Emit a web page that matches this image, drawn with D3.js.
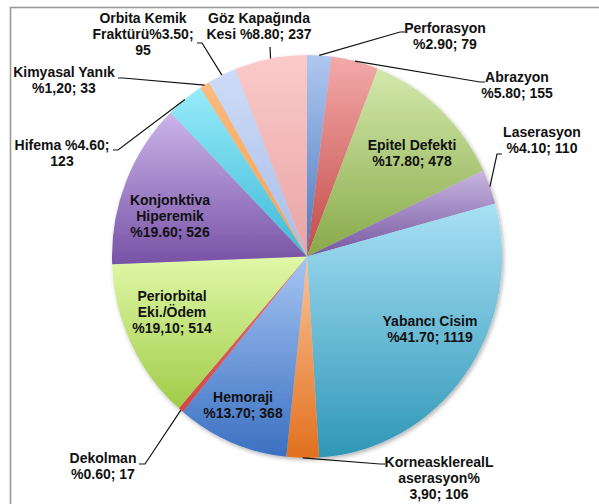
<!DOCTYPE html>
<html>
<head>
<meta charset="utf-8">
<script src="https://cdn.jsdelivr.net/npm/d3@7/dist/d3.min.js"></script>
<style>
  html, body { margin: 0; padding: 0; background: #fff; }
  svg { display: block; }
  text { font-family: "Liberation Sans", Arial, sans-serif; font-weight: bold; font-size: 14px; fill: #111; }
</style>
</head>
<body>
<svg id="chart" width="599" height="504"></svg>
<script>
// ---- data ----
const categories = ["Perforasyon", "Abrazyon", "Epitel Defekti", "Laserasyon", "Yabancı Cisim",
  "KorneasklerealLaserasyon", "Hemoraji", "Dekolman", "Periorbital Eki./Ödem", "Konjonktiva Hiperemik",
  "Hifema", "Kimyasal Yanık", "Orbita Kemik Fraktürü", "Göz Kapağında Kesi"];
const counts = [79, 155, 478, 110, 1119, 106, 368, 17, 514, 526, 123, 33, 95, 237];
const percents = ["%2.90", "%5.80", "%17.80", "%4.10", "%41.70", "%3,90", "%13.70", "%0.60", "%19,10", "%19.60", "%4.60", "%1,20", "%3.50", "%8.80"];
const labelLines = [
  ["Perforasyon", "%2.90; 79"],
  ["Abrazyon", "%5.80; 155"],
  ["Epitel Defekti", "%17.80; 478"],
  ["Laserasyon", "%4.10; 110"],
  ["Yabancı Cisim", "%41.70; 1119"],
  ["KorneasklerealL", "aserasyon%", "3,90; 106"],
  ["Hemoraji", "%13.70; 368"],
  ["Dekolman", "%0.60; 17"],
  ["Periorbital", "Eki./Ödem", "%19,10; 514"],
  ["Konjonktiva", "Hiperemik", "%19.60; 526"],
  ["Hifema %4.60;", "123"],
  ["Kimyasal Yanık", "%1,20; 33"],
  ["Orbita Kemik", "Fraktürü%3.50;", "95"],
  ["Göz Kapağında", "Kesi %8.80; 237"]
];

// ---- style / layout ----
const gradColors = [
  ["#b0c8f0", "#4a78c0"], ["#f3aaaa", "#c24a48"], ["#d3e9ad", "#89a948"], ["#c8b6e0", "#7557a0"],
  ["#a8e0f5", "#2f97b7"], ["#fac49a", "#e2701e"], ["#a6c5f2", "#3b70c2"], ["#ec7070", "#d04848"],
  ["#e0f8a8", "#a0cc48"], ["#cbb5ea", "#7752a6"], ["#96ecfa", "#3fb8d6"], ["#fcbb80", "#f5a050"],
  ["#cddcf7", "#a8bde8"], ["#fccaca", "#e8a4a4"]
];
// label block: center x, first baseline y, leader points (label side first)
const labelLayout = [
  { x: 445, y: 33, lead: [[405, 32], [400, 32]] },
  { x: 517, y: 82, lead: [[485, 82], [480, 82]] },
  { x: 412, y: 150 },
  { x: 542, y: 137, lead: [[502, 154], [497, 154]] },
  { x: 430, y: 326 },
  { x: 439, y: 467, lead: [[385, 464], [380, 464]] },
  { x: 243, y: 402 },
  { x: 103, y: 463, lead: [[139, 464], [145, 464]] },
  { x: 172, y: 301 },
  { x: 170, y: 205 },
  { x: 62, y: 150, lead: [[113, 150], [118, 150]] },
  { x: 64, y: 77, lead: [[118, 78], [123, 78]] },
  { x: 143, y: 23, lead: [[197, 43], [202, 43]] },
  { x: 259, y: 23, lead: [[270, 47]] }
];
const lineH = 16;
const cx = 307, cy = 256.5, rx = 195, ry = 201.5;

const svg = d3.select("#chart");

// frame
svg.append("rect").attr("x", 10.5).attr("y", 7.5).attr("width", 620).attr("height", 520)
  .attr("fill", "none").attr("stroke", "#9a9a9a").attr("stroke-width", 1.6);

const defs = svg.append("defs");
const filt = defs.append("filter").attr("id", "shadow").attr("x", "-10%").attr("y", "-10%")
  .attr("width", "120%").attr("height", "120%");
filt.append("feDropShadow").attr("dx", 1.5).attr("dy", 2).attr("stdDeviation", 2)
  .attr("flood-color", "#000").attr("flood-opacity", 0.3);

gradColors.forEach((c, i) => {
  const g = defs.append("linearGradient").attr("id", "g" + i)
    .attr("x1", 0).attr("y1", 0).attr("x2", 0).attr("y2", 1);
  g.append("stop").attr("offset", "0%").attr("stop-color", c[0]);
  g.append("stop").attr("offset", "100%").attr("stop-color", c[1]);
});

const pie = d3.pie().value(d => d).sort(null);
const arcs = pie(counts);
const arc = d3.arc().innerRadius(0).outerRadius(rx);
const edgeArc = d3.arc().innerRadius(rx).outerRadius(rx);
const sy = ry / rx;

const pg = svg.append("g").attr("transform", `translate(${cx},${cy}) scale(1,${sy})`)
  .attr("filter", "url(#shadow)");
pg.selectAll("path").data(arcs).join("path")
  .attr("d", arc)
  .attr("fill", (d, i) => `url(#g${i})`);

// leader lines
const lines = svg.append("g");
arcs.forEach((d, i) => {
  const L = labelLayout[i];
  if (!L.lead) return;
  const c = edgeArc.centroid(d);
  const anchor = [cx + c[0], cy + c[1] * sy];
  const pts = L.lead.concat([anchor]);
  lines.append("path").attr("d", d3.line()(pts))
    .attr("fill", "none").attr("stroke", "#111").attr("stroke-width", 1.2);
});

// labels
const lg = svg.append("g");
labelLines.forEach((ls, i) => {
  const L = labelLayout[i];
  const t = lg.append("text").attr("text-anchor", "middle");
  ls.forEach((s, k) => {
    t.append("tspan").attr("x", L.x).attr("y", L.y + k * lineH).text(s);
  });
});
</script>
</body>
</html>
